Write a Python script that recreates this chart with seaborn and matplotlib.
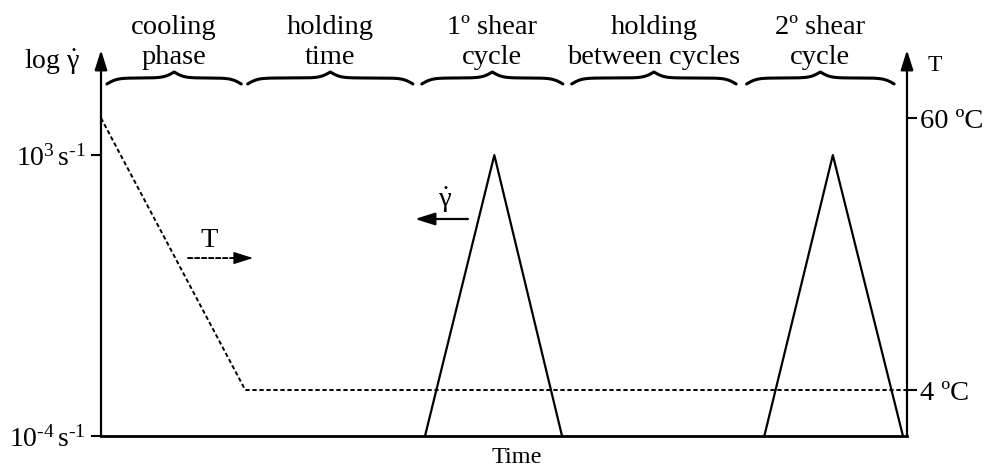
import numpy as np
import pandas as pd
import matplotlib
matplotlib.use("Agg")
import matplotlib.pyplot as plt
from matplotlib.ticker import NullLocator
import seaborn as sns

# ---------------- data ----------------
# temperature programme (dashed line, right axis, ºC)
temp_time = [0.0, 17.9, 100.0]
temp_value = [60.0, 4.0, 4.0]

# shear-rate triangles (solid lines, left log axis, 1/s)
shear_time = [40.2, 48.8, 57.2, 82.3, 90.8, 99.5]
shear_rate = [1e-4, 1e3, 1e-4, 1e-4, 1e3, 1e-4]
shear_cycle = [1, 1, 1, 2, 2, 2]

# phases (braces on top)
phase_line1 = ["cooling", "holding", "1º shear", "holding", "2º shear"]
phase_line2 = ["phase", "time", "cycle", "between cycles", "cycle"]
phase_start = [0.74, 18.2, 39.8, 58.4, 80.1]
phase_end = [17.4, 38.7, 57.3, 78.8, 98.4]

# tick labels
left_ticks = [1e-4, 1e3]
left_labels = ["$\\mathrm{10^{\u20104}\\,s^{\u20101}}$", "$\\mathrm{10^{3}\\,s^{\u20101}}$"]
right_ticks = [4, 60]
right_labels = ["4 ºC", "60 ºC"]

# ---------------- style ----------------
sns.set_theme(style="white", rc={
    "axes.edgecolor": "black", "xtick.color": "black", "ytick.color": "black",
    "text.color": "black", "axes.labelcolor": "black",
})
plt.rcParams["font.family"] = ["Liberation Serif", "DejaVu Serif"]
plt.rcParams["mathtext.fontset"] = "custom"
plt.rcParams["mathtext.rm"] = "Liberation Serif"
plt.rcParams["mathtext.it"] = "Liberation Serif:italic"
plt.rcParams["mathtext.bf"] = "Liberation Serif:bold"

W, H = 988, 469
fig = plt.figure(figsize=(W / 100, H / 100), dpi=100)
ax = fig.add_axes([101 / W, 33 / H, 806 / W, 386 / H])
ax2 = ax.twinx()

shear_df = pd.DataFrame({"time": shear_time, "rate": shear_rate, "cycle": shear_cycle})
temp_df = pd.DataFrame({"time": temp_time, "temp": temp_value})

DASH = (0, (2.2, 1.4))
sns.lineplot(data=shear_df, x="time", y="rate", units="cycle", estimator=None,
             color="black", lw=1.6, ax=ax, legend=False)
sns.lineplot(data=temp_df, x="time", y="temp", color="black", lw=1.4,
             linestyle=DASH, ax=ax2, legend=False)

ax.set_yscale("log")
ax.set_ylim(1e-4, 10 ** 5.62)
ax.set_xlim(0, 100)
ax2.set_ylim(-5.47, 74.0)

ax.set_xticks([])
ax.set_yticks(left_ticks)
ax.set_yticklabels(left_labels)
ax.yaxis.set_minor_locator(NullLocator())
ax2.set_yticks(right_ticks)
ax2.set_yticklabels(right_labels)

ax.tick_params(axis="y", direction="out", length=7.5, width=1.5, labelsize=20, pad=3.5)
ax2.tick_params(axis="y", direction="out", length=7.5, width=1.5, labelsize=20.5, pad=1.5)

for a in (ax, ax2):
    for s in ("left", "right", "top"):
        a.spines[s].set_visible(False)
ax2.spines["bottom"].set_visible(False)
ax.spines["bottom"].set_linewidth(2.0)
ax.set_xlabel("")
ax.set_ylabel("")
ax2.set_ylabel("")

# axis arrows
arrow_kw = dict(arrowstyle="-|>,head_length=1.2,head_width=0.38", lw=1.6,
                color="black", shrinkA=0, shrinkB=0, mutation_scale=10)
ax.annotate("", xy=(0, 1), xytext=(0, 0), xycoords="axes fraction",
            textcoords="axes fraction", arrowprops=arrow_kw, annotation_clip=False)
ax.annotate("", xy=(1, 1), xytext=(1, 0), xycoords="axes fraction",
            textcoords="axes fraction", arrowprops=arrow_kw, annotation_clip=False)

ax.text(-0.026, 0.95, r"log $\dot{\mathrm{\gamma}}$", transform=ax.transAxes,
        ha="right", va="baseline", fontsize=20)
ax.text(1.0347, 0.945, "T", transform=ax.transAxes, ha="center", va="baseline",
        fontsize=17)
ax.text(0.516, -0.028, "Time", transform=ax.transAxes, ha="center", va="top",
        fontsize=17.5)

# in-plot arrows
ax.annotate("", xy=(0.176, 0.461), xytext=(0.108, 0.461), xycoords="axes fraction",
            arrowprops=dict(arrowstyle="-", lw=1.4, color="black", linestyle=DASH,
                            shrinkA=0, shrinkB=0))
ax.annotate("", xy=(0.1886, 0.461), xytext=(0.172, 0.461), xycoords="axes fraction",
            arrowprops=dict(arrowstyle="-|>,head_length=1.2,head_width=0.38", lw=1.0,
                            color="black", shrinkA=0, shrinkB=0, mutation_scale=10))
ax.text(0.134, 0.4896, "T", transform=ax.transAxes, ha="center", va="baseline",
        fontsize=20.5)
ax.annotate("", xy=(0.3896, 0.5622), xytext=(0.4553, 0.5622), xycoords="axes fraction",
            arrowprops=dict(arrowstyle="-|>,head_length=1.2,head_width=0.38", lw=1.6,
                            color="black", shrinkA=0, shrinkB=0, mutation_scale=10))
ax.text(0.4268, 0.611, r"$\dot{\mathrm{\gamma}}$", transform=ax.transAxes,
        ha="center", va="center", fontsize=20.5)

# braces
def brace(x0, x1, y0, h, k=1.6):
    xm = (x0 + x1) / 2
    xl = np.linspace(x0, xm, 200)
    yl = 1 / (1 + np.exp(-k * (xl - x0))) + 1 / (1 + np.exp(-k * (xl - xm))) - 0.5
    xr = np.linspace(xm, x1, 200)
    yr = 1 / (1 + np.exp(k * (xr - x1))) + 1 / (1 + np.exp(k * (xr - xm))) - 0.5
    xs = np.concatenate([xl, xr])
    ys = y0 + h * np.concatenate([yl, yr])
    return xs, ys

tr = ax.get_xaxis_transform()
for s, e, l1, l2 in zip(phase_start, phase_end, phase_line1, phase_line2):
    xs, ys = brace(s, e, 0.912, 0.031)
    ax.plot(xs, ys, color="black", lw=2.2, transform=tr, clip_on=False,
            solid_capstyle="round")
    xm = (s + e) / 2
    ax.text(xm, 1.0415, l1, transform=tr, ha="center", va="baseline", fontsize=20.5)
    ax.text(xm, 0.9637, l2, transform=tr, ha="center", va="baseline", fontsize=20.5)

fig.savefig("out.png", dpi=100)
